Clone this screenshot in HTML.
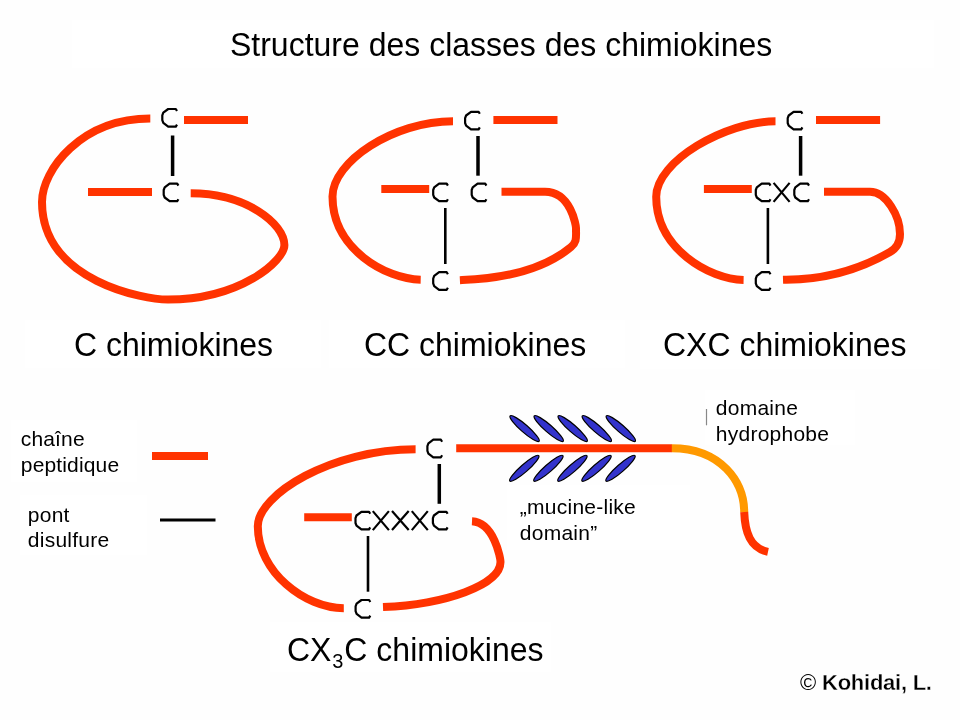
<!DOCTYPE html>
<html><head><meta charset="utf-8"><style>
html,body{margin:0;padding:0;background:#fefefe;}
body{width:960px;height:720px;overflow:hidden;position:relative}
svg{position:absolute;left:0;top:0;will-change:transform}
text{font-family:"Liberation Sans",sans-serif;fill:#000}
</style></head><body>
<svg width="960" height="720" viewBox="0 0 960 720">
<rect x="72" y="20" width="862" height="48" fill="#fff"/>
<rect x="25" y="320" width="296" height="48" fill="#fff"/>
<rect x="329" y="320" width="296" height="48" fill="#fff"/>
<rect x="640" y="320" width="300" height="49" fill="#fff"/>
<rect x="11" y="420" width="126" height="62" fill="#fff"/>
<rect x="20" y="495" width="127" height="60" fill="#fff"/>
<rect x="270" y="622" width="281" height="50" fill="#fff"/>
<rect x="705" y="390" width="150" height="55" fill="#fff"/>
<rect x="507" y="485" width="183" height="65" fill="#fff"/>
<path d="M184,120 H248" stroke="#ff3300" stroke-width="8" fill="none"/>
<path d="M88,192 H152" stroke="#ff3300" stroke-width="8" fill="none"/>
<path d="M177.0,111.0 L175.8,109.0 L168.2,109.0 L163.3,112.7 L162.3,115.4 L162.3,120.2 L163.3,122.9 L168.2,126.6 L175.8,126.6 L177.0,124.6" fill="none" stroke="#000" stroke-width="2.2" stroke-linejoin="round"/>
<path d="M178.4,185.6 L177.2,183.6 L169.6,183.6 L164.7,187.3 L163.7,190.0 L163.7,194.8 L164.7,197.5 L169.6,201.2 L177.2,201.2 L178.4,199.2" fill="none" stroke="#000" stroke-width="2.2" stroke-linejoin="round"/>
<path d="M172.6,135.5 V176" stroke="#000" stroke-width="3.5" fill="none"/>
<path d="M150.3,118.6 C81.3,118.6 42,170 42,202 C42,282 146,299.6 168,299.6 C240,299.6 284.4,261 284.4,245 C284.4,224 246.7,193.3 190.7,193.3" stroke="#ff3300" stroke-width="8" fill="none" transform="translate(0,0)"/>
<path d="M493.4,120 H557.5" stroke="#ff3300" stroke-width="8" fill="none"/>
<path d="M381.3,189 H429.2" stroke="#ff3300" stroke-width="8" fill="none"/>
<path d="M479.8,113.8 L478.6,111.8 L471.0,111.8 L466.1,115.5 L465.1,118.2 L465.1,123.0 L466.1,125.7 L471.0,129.4 L478.6,129.4 L479.8,127.4" fill="none" stroke="#000" stroke-width="2.2" stroke-linejoin="round"/>
<path d="M447.9,185.6 L446.7,183.6 L439.1,183.6 L434.2,187.3 L433.2,190.0 L433.2,194.8 L434.2,197.5 L439.1,201.2 L446.7,201.2 L447.9,199.2" fill="none" stroke="#000" stroke-width="2.2" stroke-linejoin="round"/>
<path d="M486.4,185.6 L485.2,183.6 L477.6,183.6 L472.7,187.3 L471.7,190.0 L471.7,194.8 L472.7,197.5 L477.6,201.2 L485.2,201.2 L486.4,199.2" fill="none" stroke="#000" stroke-width="2.2" stroke-linejoin="round"/>
<path d="M447.9,274.2 L446.7,272.2 L439.1,272.2 L434.2,275.9 L433.2,278.6 L433.2,283.4 L434.2,286.1 L439.1,289.8 L446.7,289.8 L447.9,287.8" fill="none" stroke="#000" stroke-width="2.2" stroke-linejoin="round"/>
<path d="M478,136 V175.7" stroke="#000" stroke-width="3.5" fill="none"/>
<path d="M445.3,208 V264" stroke="#000" stroke-width="2.6" fill="none"/>
<path d="M453.0,121.3 C393.2,121.3 332.5,161.9 332.5,196.6 C332.5,249.1 385.9,279.0 420.7,279.7" stroke="#ff3300" stroke-width="8" fill="none" transform="translate(0,0)"/>
<path d="M501.5,191.8 L545,191.8 C571,191.8 576,226 576,228 C576,238 577.1,241.9 571,247 C532.7,279.1 469.9,279.7 459.9,280.2" stroke="#ff3300" stroke-width="8" fill="none" transform="translate(0,0)"/>
<path d="M816.0,120 H880.1" stroke="#ff3300" stroke-width="8" fill="none"/>
<path d="M703.9000000000001,189 H751.8" stroke="#ff3300" stroke-width="8" fill="none"/>
<path d="M802.4,113.8 L801.2,111.8 L793.6,111.8 L788.7,115.5 L787.7,118.2 L787.7,123.0 L788.7,125.7 L793.6,129.4 L801.2,129.4 L802.4,127.4" fill="none" stroke="#000" stroke-width="2.2" stroke-linejoin="round"/>
<path d="M770.5,185.6 L769.3,183.6 L761.7,183.6 L756.8,187.3 L755.8,190.0 L755.8,194.8 L756.8,197.5 L761.7,201.2 L769.3,201.2 L770.5,199.2" fill="none" stroke="#000" stroke-width="2.2" stroke-linejoin="round"/>
<path d="M773.6,182.9 L789.6,201.9 M789.6,182.9 L773.6,201.9" fill="none" stroke="#000" stroke-width="2.2"/>
<path d="M809.0,185.6 L807.8,183.6 L800.2,183.6 L795.3,187.3 L794.3,190.0 L794.3,194.8 L795.3,197.5 L800.2,201.2 L807.8,201.2 L809.0,199.2" fill="none" stroke="#000" stroke-width="2.2" stroke-linejoin="round"/>
<path d="M770.5,274.2 L769.3,272.2 L761.7,272.2 L756.8,275.9 L755.8,278.6 L755.8,283.4 L756.8,286.1 L761.7,289.8 L769.3,289.8 L770.5,287.8" fill="none" stroke="#000" stroke-width="2.2" stroke-linejoin="round"/>
<path d="M800.6,136 V175.7" stroke="#000" stroke-width="3.5" fill="none"/>
<path d="M767.9000000000001,208 V264" stroke="#000" stroke-width="2.6" fill="none"/>
<path d="M775.5,121.3 C725.5,121.3 656.2,161.2 656.2,196.7 C656.2,248.8 709.5,279.3 743.6,280.0" stroke="#ff3300" stroke-width="8" fill="none" transform="translate(0,0)"/>
<path d="M824,191.8 L870,191.8 C886,191.8 900,216 900,234 C900,243 895.2,249 890,252 C838,282 793,279.4 783,279.7" stroke="#ff3300" stroke-width="8" fill="none" transform="translate(0,0)"/>
<ellipse cx="524.6" cy="428.6" rx="19.3" ry="3.7" fill="#3333cc" stroke="#000" stroke-width="1.2" transform="rotate(41.3 524.6 428.6)"/>
<ellipse cx="524.3" cy="468.3" rx="19.3" ry="3.7" fill="#3333cc" stroke="#000" stroke-width="1.2" transform="rotate(-41.3 524.3 468.3)"/>
<ellipse cx="548.7" cy="428.6" rx="19.3" ry="3.7" fill="#3333cc" stroke="#000" stroke-width="1.2" transform="rotate(41.3 548.7 428.6)"/>
<ellipse cx="548.4" cy="468.3" rx="19.3" ry="3.7" fill="#3333cc" stroke="#000" stroke-width="1.2" transform="rotate(-41.3 548.4 468.3)"/>
<ellipse cx="572.7" cy="428.6" rx="19.3" ry="3.7" fill="#3333cc" stroke="#000" stroke-width="1.2" transform="rotate(41.3 572.7 428.6)"/>
<ellipse cx="572.4" cy="468.3" rx="19.3" ry="3.7" fill="#3333cc" stroke="#000" stroke-width="1.2" transform="rotate(-41.3 572.4 468.3)"/>
<ellipse cx="596.8" cy="428.6" rx="19.3" ry="3.7" fill="#3333cc" stroke="#000" stroke-width="1.2" transform="rotate(41.3 596.8 428.6)"/>
<ellipse cx="596.5" cy="468.3" rx="19.3" ry="3.7" fill="#3333cc" stroke="#000" stroke-width="1.2" transform="rotate(-41.3 596.5 468.3)"/>
<ellipse cx="620.8" cy="428.6" rx="19.3" ry="3.7" fill="#3333cc" stroke="#000" stroke-width="1.2" transform="rotate(41.3 620.8 428.6)"/>
<ellipse cx="620.5" cy="468.3" rx="19.3" ry="3.7" fill="#3333cc" stroke="#000" stroke-width="1.2" transform="rotate(-41.3 620.5 468.3)"/>
<path d="M456.2,448.2 H672" stroke="#ff3300" stroke-width="8" fill="none"/>
<path d="M442.1,441.7 L440.9,439.7 L433.3,439.7 L428.4,443.4 L427.4,446.1 L427.4,450.9 L428.4,453.6 L433.3,457.3 L440.9,457.3 L442.1,455.3" fill="none" stroke="#000" stroke-width="2.2" stroke-linejoin="round"/>
<path d="M439.3,464 V503.8" stroke="#000" stroke-width="3.5" fill="none"/>
<path d="M370.2,513.8 L369.0,511.8 L361.4,511.8 L356.5,515.5 L355.5,518.2 L355.5,523.0 L356.5,525.7 L361.4,529.4 L369.0,529.4 L370.2,527.4" fill="none" stroke="#000" stroke-width="2.2" stroke-linejoin="round"/>
<path d="M372.8,511.1 L388.9,530.1 M388.9,511.1 L372.8,530.1" fill="none" stroke="#000" stroke-width="2.2"/>
<path d="M392.0,511.1 L408.7,530.1 M408.7,511.1 L392.0,530.1" fill="none" stroke="#000" stroke-width="2.2"/>
<path d="M411.8,511.1 L427.8,530.1 M427.8,511.1 L411.8,530.1" fill="none" stroke="#000" stroke-width="2.2"/>
<path d="M447.6,513.8 L446.4,511.8 L438.8,511.8 L433.9,515.5 L432.9,518.2 L432.9,523.0 L433.9,525.7 L438.8,529.4 L446.4,529.4 L447.6,527.4" fill="none" stroke="#000" stroke-width="2.2" stroke-linejoin="round"/>
<path d="M304.2,517.3 H351.8" stroke="#ff3300" stroke-width="8" fill="none"/>
<path d="M370.3,602.0 L369.1,600.0 L361.5,600.0 L356.6,603.7 L355.6,606.4 L355.6,611.2 L356.6,613.9 L361.5,617.6 L369.1,617.6 L370.3,615.6" fill="none" stroke="#000" stroke-width="2.2" stroke-linejoin="round"/>
<path d="M368,536 V591.7" stroke="#000" stroke-width="2.6" fill="none"/>
<path d="M415.6,449.2 C331.3,449.2 257.8,494.7 257.8,526.3 C257.8,571.9 304.7,608.2 343.8,608.2" stroke="#ff3300" stroke-width="8" fill="none" transform="translate(0,0)"/>
<path d="M472,521.3 C494,522.4 500.5,558 500.5,562 C500.5,585 445,604.5 383,607" stroke="#ff3300" stroke-width="8" fill="none" transform="translate(0,0)"/>
<path d="M671.8,448.2 C720.8,448.2 744.2,481.8 744.2,512.3" stroke="#ff9900" stroke-width="8" fill="none" transform="translate(0,0)"/>
<path d="M744.2,512 C745,532 750,548 768,551.8" stroke="#ff3300" stroke-width="8" fill="none" transform="translate(0,0)"/>
<path d="M152,456 H208" stroke="#ff3300" stroke-width="8" fill="none"/>
<path d="M160,520 H215.5" stroke="#000" stroke-width="3" fill="none"/>
<path d="M706.5,409 V425.3" stroke="#888" stroke-width="1.2" fill="none"/>
<text x="230" y="56" font-size="32"  transform="translate(0,56) scale(1,1.045) translate(0,-56)">Structure des classes des chimiokines</text>
<text x="74" y="356" font-size="32"  transform="translate(0,356) scale(1,1.045) translate(0,-356)">C chimiokines</text>
<text x="364" y="356" font-size="32"  transform="translate(0,356) scale(1,1.045) translate(0,-356)">CC chimiokines</text>
<text x="663" y="356" font-size="32"  transform="translate(0,356) scale(1,1.045) translate(0,-356)">CXC chimiokines</text>
<text x="287" y="661" font-size="32"  transform="translate(0,661) scale(1,1.045) translate(0,-661)">CX<tspan font-size="20" dx="0.8" dy="7">3</tspan><tspan dx="1" dy="-7">C chimiokines</tspan></text>
<text x="20.8" y="446" font-size="21" letter-spacing="0.15">chaîne</text>
<text x="20.8" y="472" font-size="21" letter-spacing="0.15">peptidique</text>
<text x="27.8" y="522" font-size="21" letter-spacing="0.25">pont</text>
<text x="27.8" y="546.6" font-size="21" letter-spacing="0.25">disulfure</text>
<text x="715.8" y="415" font-size="21" letter-spacing="0.25">domaine</text>
<text x="715.8" y="440.7" font-size="21" letter-spacing="0.25">hydrophobe</text>
<text x="519.8" y="514" font-size="21" letter-spacing="0.25">„mucine-like</text>
<text x="519.8" y="539.8" font-size="21" letter-spacing="0.25">domain”</text>
<text x="800" y="689.5" font-size="22" >©</text>
<text x="822" y="689.5" font-size="22" font-weight="bold" letter-spacing="-0.25" stroke="#fff" stroke-width="0.3">Kohidai, L.</text>
</svg>
</body></html>
